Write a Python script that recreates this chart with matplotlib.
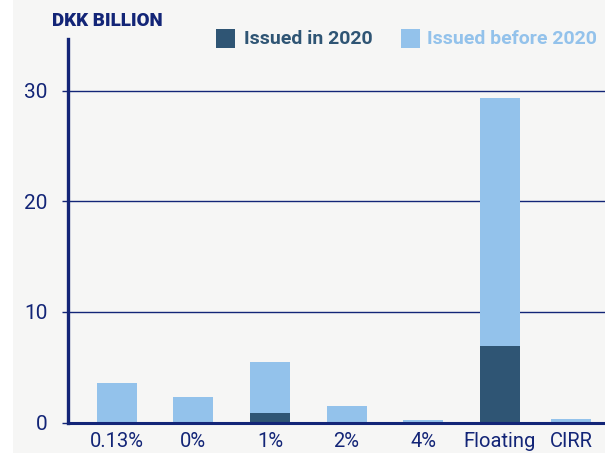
import matplotlib.pyplot as plt
import matplotlib.patches as mpatches

# Data (DKK billion)
categories = ["0.13%", "0%", "1%", "2%", "4%", "Floating", "CIRR"]
issued_2020 = [0.0, 0.0, 0.88, 0.0, 0.0, 6.93, 0.0]
issued_before = [3.59, 2.32, 4.6, 1.54, 0.2, 22.4, 0.33]
yticks = [0, 10, 20, 30]

# slot positions (CIRR sits a little closer to Floating in the original)
xpos = [0, 1, 2, 3, 4, 5, 5.93]

dark = "#2f5574"
light = "#93c2eb"
navy = "#132577"
bg = "#f6f6f5"
font = ["Roboto", "DejaVu Sans"]

plt.rcParams["font.family"] = font

fig = plt.figure(figsize=(6.05, 4.53), dpi=100)
fig.patch.set_facecolor("white")
fig.add_artist(mpatches.Rectangle((13 / 605, 0), 1, 1, transform=fig.transFigure,
                                  facecolor=bg, edgecolor="none", zorder=-10))

ax = fig.add_axes([68.3 / 605, 30.3 / 453, 1 - 68.3 / 605, (422.7 - 39) / 453])
ax.set_facecolor(bg)

ax.bar(xpos, issued_2020, width=0.52, color=dark, zorder=3)
ax.bar(xpos, issued_before, width=0.52, bottom=issued_2020, color=light, zorder=3)

ax.set_xlim(-0.63, 6.37)
ax.set_ylim(0, 34.66)
ax.set_yticks(yticks)
ax.yaxis.grid(True, color=navy, linewidth=1.0)
ax.set_axisbelow(True)

for side in ["top", "right"]:
    ax.spines[side].set_visible(False)
ax.spines["left"].set_color(navy)
ax.spines["left"].set_linewidth(2.4)
ax.spines["bottom"].set_color(navy)
ax.spines["bottom"].set_linewidth(2.2)
ax.spines["bottom"].set_zorder(5)

ax.set_xticks(xpos)
ax.set_xticklabels(categories)
ax.tick_params(axis="x", length=0, pad=7, labelsize=14.5, colors=navy)
ax.tick_params(axis="y", length=4, width=1.0, color=navy, pad=11,
               labelsize=15, labelcolor=navy)

fig.text(52 / 605, 1 - 21 / 453, "DKK BILLION", color=navy, fontsize=13.5,
         fontweight="heavy", va="center", ha="left")

# legend
fig.add_artist(mpatches.Rectangle((216 / 605, 1 - 47.7 / 453), 19 / 605, 18.4 / 453,
                                  transform=fig.transFigure, facecolor=dark, edgecolor="none"))
fig.text(243.7 / 605, 1 - 39 / 453, "Issued in 2020", color=dark, fontsize=14,
         fontweight="bold", va="center", ha="left")
fig.add_artist(mpatches.Rectangle((401 / 605, 1 - 47.7 / 453), 19 / 605, 18.4 / 453,
                                  transform=fig.transFigure, facecolor=light, edgecolor="none"))
fig.text(427 / 605, 1 - 39 / 453, "Issued before 2020", color=light, fontsize=14,
         fontweight="bold", va="center", ha="left")

fig.savefig("out.png", dpi=100, facecolor=fig.get_facecolor())
